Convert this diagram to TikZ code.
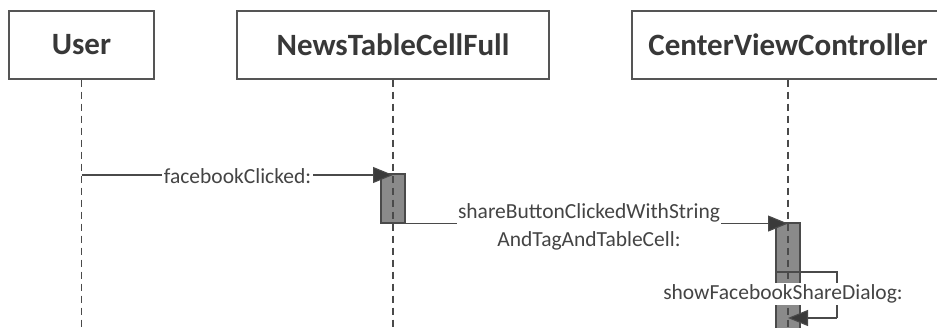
\documentclass[tikz,border=0pt]{standalone}
\usepackage{fontspec}
\setmainfont{Carlito}
\usetikzlibrary{arrows.meta}
\definecolor{boxc}{HTML}{555555}
\definecolor{ln}{HTML}{4A4A4A}
\definecolor{txt}{HTML}{383838}
\definecolor{txtb}{HTML}{444444}
\definecolor{actc}{HTML}{8A8A8A}
\definecolor{tipc}{HTML}{3A3A3A}
\begin{document}
\begin{tikzpicture}[x=1pt,y=-1pt,
  obj/.style={draw=boxc, line width=1.2pt, minimum height=68pt, inner sep=0pt,
    font=\bfseries\fontsize{31}{35}\selectfont, text=txt},
  life/.style={draw=ln, line width=1.2pt, dash pattern=on 7pt off 5pt},
  act/.style={draw=ln, fill=actc, line width=1.1pt, inner sep=0pt, minimum width=24pt},
  msg/.style={draw=ln, line width=1.1pt, -{Triangle[length=20pt,width=16pt,fill=tipc]}},
  plain/.style={draw=ln, line width=1.1pt},
  lbl/.style={fill=white, inner sep=1.5pt, align=center,
    font=\fontsize{21.5}{28}\selectfont, text=txtb}]
\useasboundingbox (0,0) rectangle (937,328);
\clip (0,0) rectangle (937,328);
\fill[white] (0,0) rectangle (937,328);
% objects
\node[obj, minimum width=145pt] (user) at (81.5,45) {User};
\node[obj, minimum width=312pt] (ntcf) at (393,45) {NewsTableCellFull};
\node[obj, minimum width=312pt] (cvc) at (788,45) {CenterViewController};
% lifeline ends
\coordinate (userEnd) at (81.5,332);
\coordinate (ntcfEnd) at (393,332);
\coordinate (cvcEnd) at (788,332);
% activations
\node[act, minimum height=49pt] (a1) at (393,198.5) {};
\node[act, minimum height=110pt] (a2) at (788,278) {};
% lifelines
\draw[life] (user.south) -- (userEnd);
\draw[life] (ntcf.south) -- (ntcfEnd);
\draw[life] (cvc.south) -- (cvcEnd);
% message 1
\coordinate (m1s) at (81.5,175);
\draw[msg] (m1s) -- (m1s -| ntcf);
\node[lbl] (l1) at (237.5,176) {facebookClicked:};
% message 2
\draw[msg] (a1.south east) -- (a1.south east -| cvc);
\node[lbl] (l2) at (589,227) {shareButtonClickedWithString\\AndTagAndTableCell:};
% self call
\coordinate (sc1) at (837,272);
\coordinate (sc2) at (837,318);
\draw[plain] (a2.west |- sc1) -- (sc1) -- (sc2);
\draw[msg] (sc2) -- (sc2 -| cvc);
\node[lbl] (l3) at (783,294) {showFacebookShareDialog:};
\end{tikzpicture}
\end{document}
